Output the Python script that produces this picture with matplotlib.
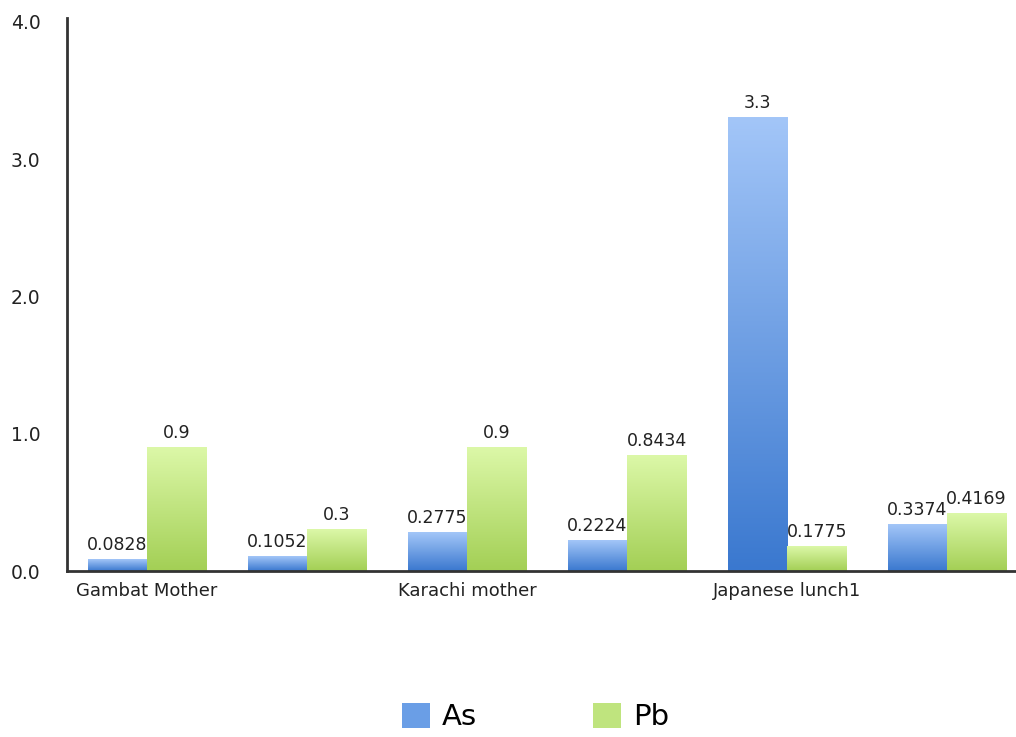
import numpy as np
import matplotlib.pyplot as plt
from matplotlib.colors import LinearSegmentedColormap
from matplotlib.patches import Patch

# data
categories = ["Gambat Mother", "", "Karachi mother", "", "Japanese lunch1", ""]
as_values = [0.0828, 0.1052, 0.2775, 0.2224, 3.3, 0.3374]
pb_values = [0.9, 0.3, 0.9, 0.8434, 0.1775, 0.4169]
as_labels = ["0.0828", "0.1052", "0.2775", "0.2224", "3.3", "0.3374"]
pb_labels = ["0.9", "0.3", "0.9", "0.8434", "0.1775", "0.4169"]
series = ["As", "Pb"]

blue_map = LinearSegmentedColormap.from_list("blue", ["#3a78cf", "#a3c6f8"])
green_map = LinearSegmentedColormap.from_list("green", ["#a3cf55", "#dcf8a8"])

fig = plt.figure(figsize=(10.16, 7.37), dpi=100)
ax = fig.add_axes([0.0659, 0.2252, 0.945, 0.7507])

x = np.arange(len(categories))
w = 0.37
bars_as = ax.bar(x - w / 2, as_values, w, color="none")
bars_pb = ax.bar(x + w / 2, pb_values, w, color="none")

# vertical gradient fill for each bar
grad = np.linspace(0, 1, 256).reshape(-1, 1)
for bars, cmap in [(bars_as, blue_map), (bars_pb, green_map)]:
    for b in bars:
        x0, y0 = b.get_x(), b.get_y()
        ax.imshow(grad, cmap=cmap, origin="lower", aspect="auto",
                  extent=[x0, x0 + b.get_width(), y0, y0 + b.get_height()], zorder=2)

for bars, labs in [(bars_as, as_labels), (bars_pb, pb_labels)]:
    for b, t in zip(bars, labs):
        ax.annotate(t, (b.get_x() + b.get_width() / 2, b.get_height()),
                    xytext=(0, 4), textcoords="offset points",
                    ha="center", va="bottom", fontsize=12.5, color="#222222", zorder=3)

ax.set_xlim(-0.5, 5.5)
ax.set_ylim(0, 4.03)
ax.set_yticks([0, 1, 2, 3, 4])
ax.set_yticklabels(["0.0", "1.0", "2.0", "3.0", "4.0"], fontsize=13.5, color="#222222")
ax.set_xticks(x)
ax.set_xticklabels(categories, fontsize=13, color="#222222")
ax.tick_params(axis="y", length=0, pad=19)
ax.tick_params(axis="x", length=0, pad=8)
for s in ["top", "right"]:
    ax.spines[s].set_visible(False)
for s in ["left", "bottom"]:
    ax.spines[s].set_color("#333333")
    ax.spines[s].set_linewidth(2)
    ax.spines[s].set_zorder(4)

handles = [Patch(facecolor="#6a9ee6", label=series[0]),
           Patch(facecolor="#bfe47e", label=series[1])]
fig.legend(handles=handles, loc="lower center", bbox_to_anchor=(0.527, -0.012),
           ncol=2, frameon=False, fontsize=21, handlelength=0.95, handleheight=0.95,
           handletextpad=0.4, columnspacing=4.0, borderpad=0)

fig.savefig("out.png", dpi=100)
